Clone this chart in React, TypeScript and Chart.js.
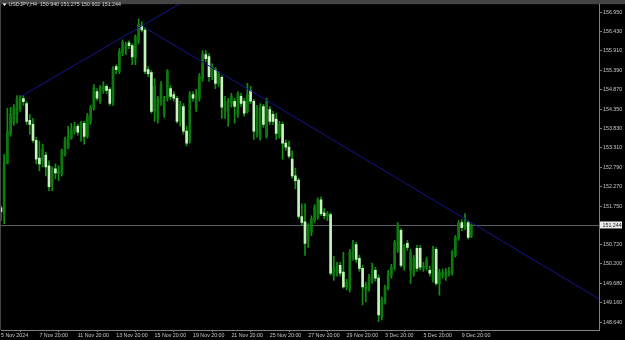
import React, { useEffect, useRef } from "react";
import { Chart, registerables } from "chart.js";

Chart.register(...registerables);

const symbolTitle = "USDJPY,H4";

const openP = [
  151.70, 151.54, 152.90, 153.67, 153.97, 154.21, 154.34, 154.63, 154.50, 154.05,
  153.94, 153.51, 153.04, 152.96, 153.12, 152.83, 152.35, 152.75, 152.61, 152.61,
  153.15, 153.30, 153.57, 153.76, 153.89, 153.84, 153.97, 153.62, 154.02, 154.37,
  154.82, 154.56, 154.85, 154.96, 154.88, 154.56, 155.49, 155.36, 155.84, 155.94,
  156.13, 156.05, 155.73, 156.15, 156.58, 156.47, 155.41, 155.33, 154.29, 154.08,
  154.56, 154.21, 154.64, 154.90, 154.74, 154.64, 154.02, 154.42, 153.76, 153.49,
  154.74, 154.37, 154.64, 155.17, 155.81, 155.76, 155.22, 155.41, 155.04, 155.20,
  154.29, 154.29, 154.48, 154.56, 154.21, 154.69, 154.56, 154.29, 154.85, 154.56,
  153.68, 153.57, 154.42, 153.62, 154.34, 154.21, 154.08, 153.62, 153.94, 153.44,
  153.33, 153.01, 152.56, 152.45, 151.47, 151.33, 150.83, 151.04, 151.36, 151.44,
  151.92, 151.57, 151.47, 151.52, 149.90, 149.98, 150.16, 149.98, 149.58, 149.50,
  150.38, 150.72, 150.35, 150.08, 149.50, 149.55, 149.76, 150.03, 149.82, 148.78,
  149.18, 149.55, 149.90, 150.08, 150.56, 151.10, 150.11, 150.75, 150.03, 149.95,
  150.62, 150.62, 150.08, 150.11, 150.03, 149.76, 150.59, 149.68, 149.90, 149.84,
  149.95, 149.95, 150.43, 150.88, 151.31, 151.17, 151.31, 150.94,
];

const highP = [
  151.76, 153.14, 154.37, 154.40, 154.47, 154.71, 154.71, 154.71, 154.55, 154.21,
  154.10, 153.59, 153.49, 153.41, 153.20, 152.96, 152.80, 152.88, 152.83, 153.28,
  153.60, 153.89, 153.97, 154.00, 153.94, 154.02, 154.02, 154.24, 154.45, 155.01,
  154.90, 154.98, 155.09, 155.01, 154.93, 155.49, 155.54, 155.97, 156.21, 156.15,
  156.18, 156.10, 156.34, 156.77, 156.69, 156.53, 155.49, 155.38, 155.17, 154.69,
  155.09, 154.69, 155.41, 154.98, 154.82, 154.69, 154.56, 154.50, 153.89, 154.82,
  154.82, 154.88, 155.30, 155.92, 155.92, 155.84, 155.57, 155.46, 155.36, 155.25,
  154.69, 154.64, 154.77, 154.64, 154.82, 154.77, 154.64, 155.04, 154.96, 154.61,
  154.45, 154.50, 154.48, 154.64, 154.42, 154.29, 154.24, 154.02, 154.00, 153.52,
  153.49, 153.23, 152.77, 152.50, 151.81, 151.81, 151.28, 151.49, 151.79, 151.97,
  152.00, 151.68, 151.60, 151.57, 150.40, 150.24, 150.24, 150.51, 149.79, 150.59,
  150.83, 150.78, 150.43, 150.16, 149.71, 149.92, 150.22, 150.11, 149.90, 149.31,
  149.63, 150.03, 150.19, 150.83, 151.31, 151.15, 150.72, 150.83, 150.59, 150.43,
  150.70, 150.70, 150.24, 150.38, 150.14, 150.67, 150.64, 150.06, 150.06, 150.08,
  150.11, 150.56, 150.96, 151.36, 151.39, 151.55, 151.36, 151.275,
];

const lowP = [
  151.36, 151.28, 152.88, 153.62, 153.91, 153.97, 154.29, 154.45, 153.94, 153.67,
  153.46, 152.88, 152.69, 152.80, 152.56, 152.16, 152.16, 152.48, 152.43, 152.56,
  153.09, 153.28, 153.54, 153.68, 153.65, 153.49, 153.41, 153.57, 153.94, 154.32,
  154.58, 154.50, 154.77, 154.77, 154.45, 154.45, 155.30, 155.30, 155.78, 155.81,
  155.97, 155.54, 155.54, 156.10, 156.42, 155.30, 155.22, 154.24, 154.02, 153.97,
  154.45, 154.13, 154.56, 154.61, 154.56, 153.97, 153.89, 153.68, 153.36, 153.44,
  154.56, 154.29, 154.56, 155.09, 155.62, 155.09, 155.14, 154.90, 154.96, 154.10,
  154.10, 153.89, 154.40, 153.97, 154.13, 154.42, 154.16, 154.24, 154.50, 153.54,
  153.60, 153.52, 153.86, 153.57, 153.94, 153.94, 153.54, 153.57, 153.01, 153.25,
  153.04, 152.50, 152.21, 151.41, 151.23, 150.43, 150.64, 150.96, 151.31, 151.39,
  151.49, 151.41, 151.36, 149.90, 149.76, 149.87, 149.87, 149.55, 149.50, 149.44,
  150.30, 150.24, 150.00, 149.10, 149.18, 149.47, 149.68, 149.74, 148.65, 148.70,
  149.12, 149.50, 149.82, 150.03, 150.51, 150.11, 150.03, 150.56, 149.68, 149.87,
  150.00, 150.03, 150.00, 150.03, 149.87, 149.71, 149.63, 149.36, 149.82, 149.76,
  149.87, 149.90, 150.38, 150.83, 151.09, 151.12, 150.86, 150.902,
];

const closeP = [
  151.60, 152.93, 153.75, 154.23, 154.39, 154.63, 154.66, 154.55, 154.02, 153.94,
  153.51, 153.01, 152.88, 153.28, 152.80, 152.27, 152.75, 152.64, 152.69, 153.23,
  153.54, 153.62, 153.78, 153.89, 153.73, 153.97, 153.62, 154.16, 154.40, 154.93,
  154.64, 154.93, 154.96, 154.85, 154.50, 155.44, 155.41, 155.89, 156.15, 156.07,
  156.05, 155.75, 156.29, 156.63, 156.47, 155.36, 155.30, 154.29, 154.96, 154.63,
  155.01, 154.61, 155.38, 154.69, 154.64, 154.02, 154.48, 153.76, 153.44, 154.74,
  154.64, 154.77, 155.22, 155.84, 155.70, 155.22, 155.49, 155.04, 155.30, 154.40,
  154.56, 154.56, 154.69, 154.42, 154.74, 154.50, 154.24, 154.74, 154.56, 153.76,
  154.37, 154.42, 153.94, 154.56, 154.02, 154.02, 153.70, 153.94, 153.44, 153.33,
  153.09, 152.56, 152.43, 151.47, 151.31, 150.75, 151.23, 151.41, 151.71, 151.92,
  151.55, 151.49, 151.55, 149.95, 150.11, 150.16, 149.95, 149.58, 149.71, 150.51,
  150.75, 150.32, 150.08, 149.58, 149.63, 149.84, 150.03, 149.82, 148.83, 149.23,
  149.58, 149.95, 150.11, 150.78, 151.23, 150.16, 150.64, 150.64, 150.51, 150.35,
  150.08, 150.11, 150.14, 150.30, 149.95, 150.59, 149.68, 149.98, 149.98, 149.98,
  150.03, 150.51, 150.91, 151.31, 151.17, 151.31, 150.91, 151.244,
];

const xTickBars = [0, 12, 24, 36, 48, 60, 72, 84, 96, 108, 120, 132, 144];
const xTickLabels = [
  "5 Nov 2024", "7 Nov 20:00", "11 Nov 20:00", "13 Nov 20:00", "15 Nov 20:00",
  "19 Nov 20:00", "21 Nov 20:00", "25 Nov 20:00", "27 Nov 20:00", "29 Nov 20:00",
  "3 Dec 20:00", "5 Dec 20:00", "9 Dec 20:00",
];
const yTickValues = [
  156.95, 156.43, 155.91, 155.39, 154.87, 154.35, 153.83, 153.31, 152.79,
  152.27, 151.75, 150.72, 150.2, 149.68, 149.16, 148.64,
];
const bidPrice = 151.244;
const trendUp = [ { x: 6.25, y: 154.69 }, { x: 60, y: 157.38 } ];
const trendDown = [ { x: 44.7, y: 156.55 }, { x: 190, y: 149.1 } ];

const FONT = "Liberation Sans";
const TEXT = "#c8c8c8";
const AXIS = "#808080";
const BULL = "#0e7a0e";
const BEAR = "#c4f5bc";
const WICK = "#109010";
const TREND = "#14148c";

export default function App() {
  const ref = useRef<HTMLCanvasElement>(null);

  useEffect(() => {
    const canvas = ref.current;
    if (!canvas) return;
    const idx = closeP.map((_, i) => i);
    const last = closeP.length - 1;

    const overlay = {
      id: "mtOverlay",
      beforeDraw(chart: any) {
        const { ctx, width, height, chartArea } = chart;
        ctx.save();
        ctx.fillStyle = "#000";
        ctx.fillRect(0, 0, width, height);
        ctx.fillStyle = "#444";
        ctx.fillRect(0, 0, width, chartArea.top);
        ctx.fillRect(0, 0, chartArea.left, chartArea.bottom);
        ctx.restore();
      },
      beforeDatasetsDraw(chart: any) {
        const { ctx, chartArea } = chart;
        const y = Math.round(chart.scales.y.getPixelForValue(bidPrice)) + 0.5;
        ctx.save();
        ctx.strokeStyle = "#5c5c66";
        ctx.lineWidth = 1;
        ctx.beginPath();
        ctx.moveTo(chartArea.left, y);
        ctx.lineTo(chartArea.right, y);
        ctx.stroke();
        ctx.restore();
      },
      afterDraw(chart: any) {
        const { ctx, chartArea } = chart;
        ctx.save();
        // title
        ctx.fillStyle = "#ffffff";
        ctx.beginPath();
        ctx.moveTo(2.5, 3.5);
        ctx.lineTo(6.5, 3.5);
        ctx.lineTo(4.5, 6);
        ctx.closePath();
        ctx.fill();
        ctx.font = `5.3px "${FONT}"`;
        ctx.fillStyle = "#d0d0d0";
        ctx.textBaseline = "middle";
        ctx.textAlign = "left";
        const t = `${symbolTitle}  ${openP[last].toFixed(3)} ${highP[last].toFixed(3)} ${lowP[last].toFixed(3)} ${closeP[last].toFixed(3)}`;
        ctx.fillText(t, 8.5, 5);
        // bid label
        const y = chart.scales.y.getPixelForValue(bidPrice);
        const x0 = chartArea.right + 1;
        ctx.fillStyle = "#ececec";
        ctx.fillRect(x0, y - 3.5, 22, 7);
        ctx.fillStyle = "#202020";
        ctx.fillText(bidPrice.toFixed(3), x0 + 2.5, y + 0.2);
        ctx.restore();
      },
    };

    const chart = new Chart(canvas, {
      type: "bar",
      data: {
        datasets: [
          {
            type: "line",
            data: trendUp,
            borderColor: TREND,
            borderWidth: 1,
            pointRadius: 0,
            order: 0,
          } as any,
          {
            type: "line",
            data: trendDown,
            borderColor: TREND,
            borderWidth: 1,
            pointRadius: 0,
            order: 0,
          } as any,
          {
            type: "bar",
            data: idx.map((i) => ({ x: i, y: [openP[i], closeP[i]] })),
            backgroundColor: idx.map((i) => (closeP[i] >= openP[i] ? BULL : BEAR)),
            borderWidth: 0,
            barThickness: 2,
            minBarLength: 1,
            grouped: false,
            order: 1,
          } as any,
          {
            type: "bar",
            data: idx.map((i) => ({ x: i, y: [lowP[i], highP[i]] })),
            backgroundColor: WICK,
            borderWidth: 0,
            barThickness: 1,
            grouped: false,
            order: 2,
          } as any,
        ],
      },
      options: {
        responsive: false,
        devicePixelRatio: 1,
        animation: false,
        events: [],
        layout: { padding: { left: 1, top: 2, right: 0, bottom: 0 } },
        plugins: {
          legend: { display: false },
          tooltip: { enabled: false },
          title: { display: false },
        },
        scales: {
          x: {
            type: "linear",
            min: 0,
            max: 186.875,
            offset: false,
            bounds: "data",
            afterBuildTicks: (s: any) => {
              s.ticks = xTickBars.map((v) => ({ value: v }));
            },
            afterFit: (s: any) => {
              s.height = 10;
            },
            grid: {
              display: true,
              drawOnChartArea: false,
              drawTicks: true,
              tickLength: 2,
              color: AXIS,
            },
            border: { display: true, color: AXIS },
            ticks: {
              autoSkip: false,
              maxRotation: 0,
              minRotation: 0,
              align: "start",
              padding: 0,
              color: TEXT,
              font: { family: FONT, size: 5.3 },
              callback: (v: any) => {
                const k = xTickBars.indexOf(Number(v));
                return k >= 0 ? xTickLabels[k] : "";
              },
            },
          },
          y: {
            type: "linear",
            position: "right",
            min: 148.428,
            max: 157.163,
            bounds: "data",
            afterBuildTicks: (s: any) => {
              s.ticks = yTickValues.map((v) => ({ value: v }));
            },
            afterFit: (s: any) => {
              s.width = 26;
            },
            grid: {
              display: true,
              drawOnChartArea: false,
              drawTicks: true,
              tickLength: 3,
              color: AXIS,
            },
            border: { display: true, color: AXIS },
            ticks: {
              autoSkip: false,
              padding: 1,
              color: TEXT,
              font: { family: FONT, size: 5.3 },
              callback: (v: any) => Number(v).toFixed(3),
            },
          },
        },
      } as any,
      plugins: [overlay],
    });

    return () => chart.destroy();
  }, []);

  return (
    <div
      style={{
        position: "fixed",
        left: 0,
        top: 0,
        width: 625,
        height: 340,
        background: "#000",
      }}
    >
      <canvas ref={ref} width={625} height={340} style={{ display: "block" }} />
    </div>
  );
}
